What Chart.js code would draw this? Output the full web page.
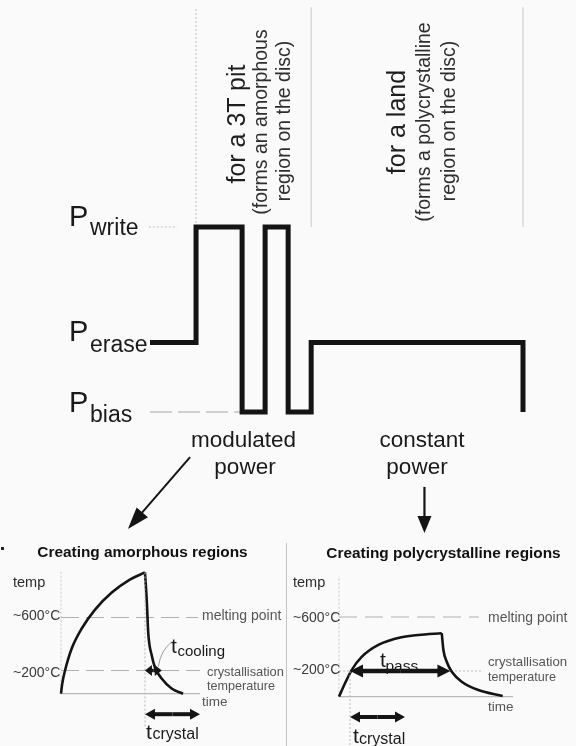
<!DOCTYPE html>
<html>
<head>
<meta charset="utf-8">
<script src="https://cdn.jsdelivr.net/npm/chart.js@4.4.1/dist/chart.umd.min.js"></script>
<style>
  html, body { margin: 0; padding: 0; background: #fafafa; }
  #page { position: relative; width: 576px; height: 746px; overflow: hidden;
          font-family: "Liberation Sans", Arial, Helvetica, sans-serif; color: #1a1a1a; }
  canvas { position: absolute; left: 0; top: 0; }
  .lbl { position: absolute; white-space: nowrap; line-height: 1; }
  #divider { position: absolute; left: 286px; top: 543px; width: 1px; height: 203px; background: #c4c4c4; }
  #dot { position: absolute; left: 1px; top: 547px; width: 3px; height: 3px; background: #222; }
</style>
</head>
<body>
<div id="page">
  <canvas id="wave" width="576" height="746"></canvas>
  <canvas id="amorph" width="576" height="746"></canvas>
  <canvas id="poly" width="576" height="746"></canvas>
  <div id="divider"></div>
  <div id="dot"></div>
</div>
<script>
// Niveles de potencia del láser (unidades relativas)
const P_BIAS = 1, P_ERASE = 4, P_WRITE = 9;

// Pulso de escritura: tiempo de cada flanco y nivel que alcanza
const pulseTimes  = [0, 2, 4, 5, 6, 7, 16.2];
const pulseLevels = [P_ERASE, P_WRITE, P_BIAS, P_WRITE, P_BIAS, P_ERASE, P_BIAS];
const sectionEdges = [2, 7, 16.2];

// Temperaturas de referencia (°C)
const meltingTemp = 600;
const crystTemp = 200;

// Regiones amorfas: calentamiento y enfriamiento rápido
const amorphHeatTime = [0, 0.09, 0.29, 0.77, 1.49, 2.45, 3.65, 4.84, 6.04];
const amorphHeatTemp = [25, 102, 200, 366, 517, 660, 789, 879, 940];
const amorphCoolTime = [6.04, 6.17, 6.28, 6.53, 6.76, 7.24, 7.96, 8.78];
const amorphCoolTemp = [940, 728, 479, 313, 223, 140, 64, 25];
const amorphCoolWindow = [6.04, 7.25];
const amorphCrystalWindow = [6.04, 10];

// Regiones policristalinas: potencia constante
const polyHeatTime = [0, 0.44, 0.92, 1.65, 2.86, 4.56, 5.77, 7.47];
const polyHeatTemp = [10, 109, 207, 304, 393, 450, 467, 480];
const polyCoolTime = [7.47, 7.59, 7.83, 8.2, 8.92, 10.13, 11.9];
const polyCoolTemp = [480, 356, 269, 195, 121, 59, 15];
const polyPassWindow = [0.8, 8.1];
const polyCrystalWindow = [0.8, 4.8];

const INK = '#141414';
const GREY = '#b8b8b8';

function pts(xs, ys) {
    return xs.map((x, i) => ({ x: x, y: ys[i] }));
}

function lineSet(xs, ys, color, width, dash, extra) {
    return Object.assign({
        data: pts(xs, ys),
        borderColor: color,
        borderWidth: width,
        borderDash: dash || [],
        pointRadius: 0,
        fill: false,
        tension: 0,
        clip: false
    }, extra || {});
}

function baseOptions(pad, xr, yr) {
    return {
        responsive: false,
        animation: false,
        events: [],
        layout: { padding: pad },
        plugins: { legend: { display: false }, tooltip: { enabled: false } },
        scales: {
            x: { type: 'linear', min: xr[0], max: xr[1], display: false },
            y: { type: 'linear', min: yr[0], max: yr[1], display: false }
        }
    };
}

function drawArrow(ctx, x1, y1, x2, y2, lw, headLen, headW) {
    const dx = x2 - x1, dy = y2 - y1;
    const len = Math.hypot(dx, dy);
    const ux = dx / len, uy = dy / len;
    const nx = -uy, ny = ux;
    const bx = x2 - ux * headLen, by = y2 - uy * headLen;
    ctx.save();
    ctx.strokeStyle = INK;
    ctx.fillStyle = INK;
    ctx.lineWidth = lw;
    ctx.beginPath();
    ctx.moveTo(x1, y1);
    ctx.lineTo(bx + ux * 2, by + uy * 2);
    ctx.stroke();
    ctx.beginPath();
    ctx.moveTo(x2, y2);
    ctx.lineTo(bx + nx * headW / 2, by + ny * headW / 2);
    ctx.lineTo(bx - nx * headW / 2, by - ny * headW / 2);
    ctx.closePath();
    ctx.fill();
    ctx.restore();
}

function drawDoubleArrow(ctx, x1, x2, y, shaft, headLen, headW) {
    const mid = (x1 + x2) / 2;
    drawArrow(ctx, mid, y, x1, y, shaft, headLen, headW);
    drawArrow(ctx, mid, y, x2, y, shaft, headLen, headW);
}

function vDotted(ctx, x, y1, y2) {
    ctx.save();
    ctx.strokeStyle = GREY;
    ctx.lineWidth = 1;
    ctx.setLineDash([2, 2]);
    ctx.beginPath();
    ctx.moveTo(x, y1);
    ctx.lineTo(x, y2);
    ctx.stroke();
    ctx.restore();
}

// ---------- Gráfica superior: potencia del láser ----------
const waveTop = 18.5;
const waveSets = [
    lineSet(pulseTimes, pulseLevels, INK, 5, [], { stepped: 'before', borderJoinStyle: 'miter', borderCapStyle: 'butt' }),
    lineSet([-0.05, 1.18], [P_WRITE, P_WRITE], '#c2c2c2', 1, [2, 2]),
    lineSet([0, 4], [P_BIAS, P_BIAS], '#c2c2c2', 1.5, [22, 6])
];
sectionEdges.forEach((t, i) => {
    waveSets.push(lineSet([t, t], [P_WRITE, waveTop], i === 0 ? '#bdbdbd' : '#c8c8c8', 1, i === 0 ? [2, 2] : []));
});

const powerArrows = {
    id: 'powerArrows',
    afterDatasetsDraw(chart) {
        const { ctx, scales: { x, y } } = chart;
        // flecha hacia regiones amorfas
        drawArrow(ctx, x.getPixelForValue(1.74), y.getPixelForValue(-0.95),
                  x.getPixelForValue(-0.96), y.getPixelForValue(-4.06), 2, 22, 15);
        // flecha hacia regiones policristalinas
        drawArrow(ctx, x.getPixelForValue(11.92), y.getPixelForValue(-2.24),
                  x.getPixelForValue(11.92), y.getPixelForValue(-4.23), 2.2, 17, 14);
    }
};

new Chart(document.getElementById('wave'), {
    type: 'line',
    data: { datasets: waveSets },
    options: baseOptions({ left: 150, right: 53, top: 7.3, bottom: 310.9 }, [0, 16.2], [0, waveTop]),
    plugins: [powerArrows]
});

// ---------- Regiones amorfas ----------
const amorphYMax = 960, amorphAmb = 25, amorphXMax = 10;
const amorphMarks = {
    id: 'amorphMarks',
    afterDatasetsDraw(chart) {
        const { ctx, chartArea, scales: { x, y } } = chart;
        const x0 = x.getPixelForValue(amorphCrystalWindow[0]);
        vDotted(ctx, x0, y.getPixelForValue(amorphHeatTemp[amorphHeatTemp.length - 1]), chartArea.bottom + 33);
        // línea guía de t_cooling
        ctx.save();
        ctx.strokeStyle = '#9a9a9a';
        ctx.lineWidth = 1;
        ctx.beginPath();
        ctx.moveTo(x.getPixelForValue(7.0), y.getPixelForValue(229));
        ctx.quadraticCurveTo(x.getPixelForValue(7.19), y.getPixelForValue(355), x.getPixelForValue(7.96), y.getPixelForValue(415));
        ctx.stroke();
        ctx.restore();
        drawDoubleArrow(ctx, x.getPixelForValue(amorphCoolWindow[0]), x.getPixelForValue(amorphCoolWindow[1]),
                        y.getPixelForValue(crystTemp), 3.5, 7, 11);
        drawDoubleArrow(ctx, x0, x.getPixelForValue(amorphCrystalWindow[1]), chartArea.bottom + 20.5, 4, 10, 11);
    }
};

new Chart(document.getElementById('amorph'), {
    type: 'line',
    data: {
        datasets: [
            lineSet(amorphHeatTime, amorphHeatTemp, INK, 2.6, [], { cubicInterpolationMode: 'monotone' }),
            lineSet(amorphCoolTime, amorphCoolTemp, INK, 2.6, [], { cubicInterpolationMode: 'monotone' }),
            lineSet([0, amorphXMax], [amorphAmb, amorphAmb], GREY, 1.2),
            lineSet([0, 0], [amorphAmb, amorphYMax], '#c6c6c6', 1, [2, 2]),
            lineSet([0, 9.86], [meltingTemp, meltingTemp], '#b0b0b0', 1, [18, 7]),
            lineSet([0, amorphXMax], [crystTemp, crystTemp], '#b0b0b0', 1, [18, 7])
        ]
    },
    options: baseOptions({ left: 61, right: 376, top: 569.8, bottom: 52.3 }, [0, amorphXMax], [amorphAmb, amorphYMax]),
    plugins: [amorphMarks]
});

// ---------- Regiones policristalinas ----------
const polyYMax = 900, polyAmb = 10, polyXMax = 12.65;
const polyMarks = {
    id: 'polyMarks',
    afterDatasetsDraw(chart) {
        const { ctx, chartArea, scales: { x, y } } = chart;
        const x0 = x.getPixelForValue(polyPassWindow[0]);
        vDotted(ctx, x0, y.getPixelForValue(crystTemp), chartArea.bottom + 48);
        drawDoubleArrow(ctx, x0, x.getPixelForValue(polyPassWindow[1]), y.getPixelForValue(crystTemp), 4.5, 13, 13);
        drawDoubleArrow(ctx, x.getPixelForValue(polyCrystalWindow[0]), x.getPixelForValue(polyCrystalWindow[1]),
                        chartArea.bottom + 19, 4, 10, 11);
    }
};

new Chart(document.getElementById('poly'), {
    type: 'line',
    data: {
        datasets: [
            lineSet(polyHeatTime, polyHeatTemp, INK, 2.6, [], { cubicInterpolationMode: 'monotone' }),
            lineSet(polyCoolTime, polyCoolTemp, INK, 2.6, [], { cubicInterpolationMode: 'monotone' }),
            lineSet([0, polyXMax], [polyAmb, polyAmb], GREY, 1.2),
            lineSet([0, 0], [polyAmb, polyYMax], '#c6c6c6', 1, [2, 2]),
            lineSet([0, 10.18], [meltingTemp, meltingTemp], '#b0b0b0', 1, [18, 8]),
            lineSet([0, 10.47], [crystTemp, crystTemp], '#bdbdbd', 1, [2, 2])
        ]
    },
    options: baseOptions({ left: 339, right: 63, top: 576.5, bottom: 48 }, [0, polyXMax], [0, polyYMax]),
    plugins: [polyMarks]
});

// ---------- Textos ----------
const page = document.getElementById('page');

function addLabel(text, x, baseline, size, opts) {
    opts = opts || {};
    const d = document.createElement('div');
    d.className = 'lbl';
    d.textContent = text;
    d.style.fontSize = size + 'px';
    d.style.left = x + 'px';
    d.style.top = (baseline - 0.8465 * size) + 'px';
    if (opts.center) d.style.transform = 'translateX(-50%)';
    if (opts.bold) d.style.fontWeight = 'bold';
    if (opts.color) d.style.color = opts.color;
    page.appendChild(d);
}

function addVertical(text, cx, cy, size, color) {
    const d = document.createElement('div');
    d.className = 'lbl';
    d.textContent = text;
    d.style.fontSize = size + 'px';
    d.style.left = cx + 'px';
    d.style.top = cy + 'px';
    d.style.transform = 'translate(-50%, -50%) rotate(-90deg)';
    if (color) d.style.color = color;
    page.appendChild(d);
}

// etiquetas de potencia
addLabel('P', 69, 227, 29);   addLabel('write', 90, 235, 23);
addLabel('P', 69, 342, 29);   addLabel('erase', 90, 352, 23);
addLabel('P', 69, 413, 29);   addLabel('bias', 90, 422, 23);

// títulos verticales
addVertical('for a 3T pit', 236.3, 124, 25, '#1e1e1e');
addVertical('(forms an amorphous', 261.2, 122, 19.5, '#2e2e2e');
addVertical('region on the disc)', 284.2, 121, 19.5, '#2e2e2e');
addVertical('for a land', 396.3, 122, 25, '#1e1e1e');
addVertical('(forms a polycrystalline', 423.7, 122, 19.5, '#2e2e2e');
addVertical('region on the disc)', 448.7, 121, 19.5, '#2e2e2e');

addLabel('modulated', 243.5, 448, 22.5, { center: true });
addLabel('power', 245, 475, 22.5, { center: true });
addLabel('constant', 422, 448, 22.5, { center: true });
addLabel('power', 417, 475, 22.5, { center: true });

// panel izquierdo
addLabel('Creating amorphous regions', 142.5, 557, 15.4, { center: true, bold: true, color: '#111' });
addLabel('temp', 13, 587, 14.5, { color: '#2a2a2a' });
addLabel('~600°C', 13, 620, 14, { color: '#3a3a3a' });
addLabel('~200°C', 13, 676.5, 14, { color: '#3a3a3a' });
addLabel('melting point', 202, 620, 14, { color: '#555' });
addLabel('crystallisation', 207, 676.5, 12.8, { color: '#555' });
addLabel('temperature', 207, 691, 12.6, { color: '#555' });
addLabel('time', 202, 706, 13.5, { color: '#555' });
addLabel('t', 171, 653, 21);   addLabel('cooling', 177.5, 656, 15);
addLabel('t', 146, 739, 21);   addLabel('crystal', 152.5, 740, 16);

// panel derecho
addLabel('Creating polycrystalline regions', 443.5, 558, 15.4, { center: true, bold: true, color: '#111' });
addLabel('temp', 293, 587.3, 14.5, { color: '#2a2a2a' });
addLabel('~600°C', 293, 621.5, 14, { color: '#3a3a3a' });
addLabel('~200°C', 293, 674, 14, { color: '#3a3a3a' });
addLabel('melting point', 488, 621.5, 14, { color: '#555' });
addLabel('crystallisation', 488, 666.5, 13.2, { color: '#555' });
addLabel('temperature', 488, 681.5, 12.6, { color: '#555' });
addLabel('time', 488, 711.5, 13.5, { color: '#555' });
addLabel('t', 380, 667, 21);   addLabel('pass', 385.5, 671, 15.5);
addLabel('t', 353, 743, 21);   addLabel('crystal', 359, 745, 16);
</script>
</body>
</html>
